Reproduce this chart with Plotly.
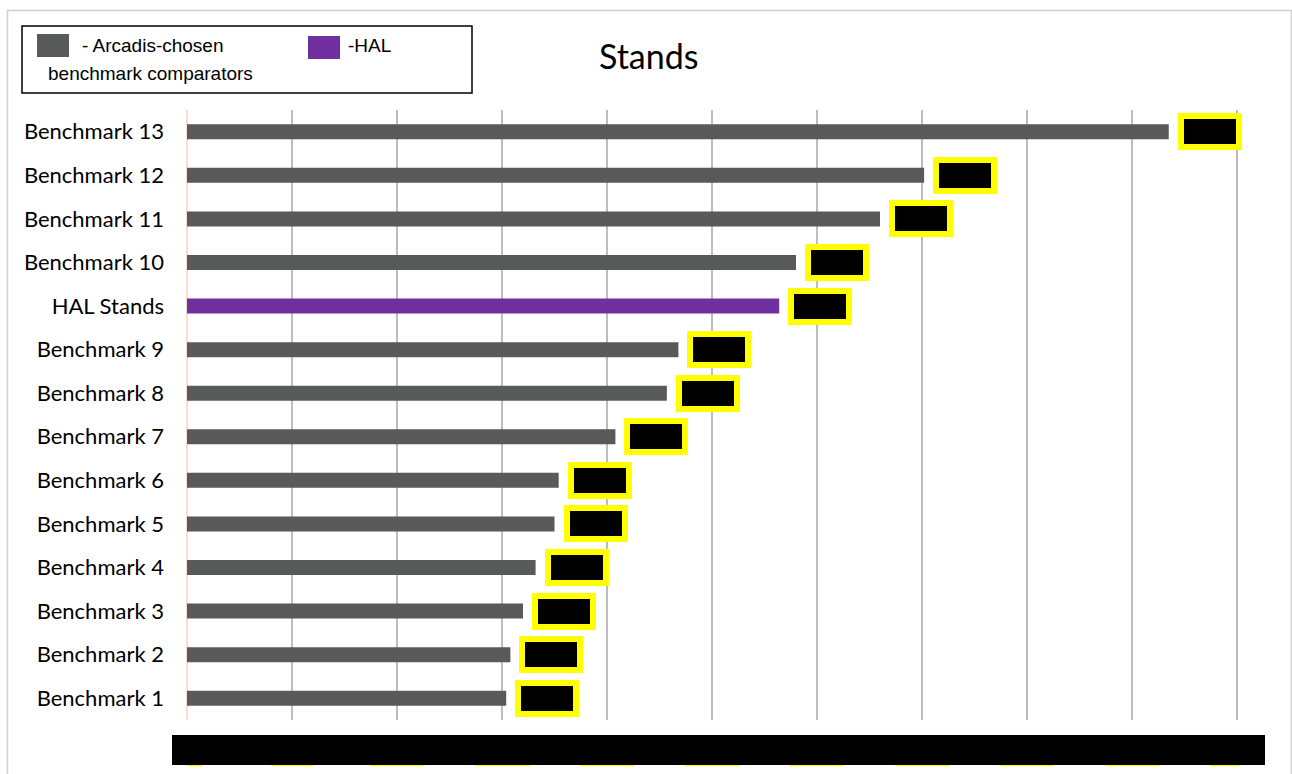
import plotly.graph_objects as go

# Categories, bottom to top
categories = [
    "Benchmark 1", "Benchmark 2", "Benchmark 3", "Benchmark 4", "Benchmark 5",
    "Benchmark 6", "Benchmark 7", "Benchmark 8", "Benchmark 9", "HAL Stands",
    "Benchmark 10", "Benchmark 11", "Benchmark 12", "Benchmark 13",
]
values = [3.04, 3.08, 3.20, 3.32, 3.50, 3.54, 4.08, 4.57, 4.68, 5.64,
          5.80, 6.60, 7.02, 9.35]
x_ticks = [0, 1, 2, 3, 4, 5, 6, 7, 8, 9, 10]

GREY = "#58595B"
PURPLE = "#7030A0"
YELLOW = "#FFFF00"

bar_colors = [PURPLE if c == "HAL Stands" else GREY for c in categories]

W, H = 1292, 774
L, R, T, B = 187, 52, 110, 54
PW, PH = W - L - R, H - T - B
UNIT = 105.0  # pixels per x unit


def px(xp):
    return (xp - L) / PW


def py(yp):
    return (H - B - yp) / PH


fig = go.Figure()
fig.add_trace(go.Bar(
    y=categories, x=values, orientation="h",
    marker=dict(color=bar_colors, line=dict(width=0)),
    showlegend=False, hoverinfo="x+y",
))

# Boxed value labels
for cat, v in zip(categories, values):
    fig.add_annotation(
        x=v, y=cat, xref="x", yref="y", xanchor="left", yanchor="middle",
        xshift=9, showarrow=False, text=f"{v:.2f}",
        font=dict(family="Liberation Sans", size=12, color="black"),
        bgcolor="black", bordercolor=YELLOW, borderwidth=6, borderpad=0,
        width=52, height=25,
    )

shapes = []
# Outer chart frame
shapes.append(dict(type="rect", xref="paper", yref="paper",
                   x0=px(7.5), x1=px(1291.5), y0=py(10.5), y1=py(820),
                   line=dict(color="#D0D0D0", width=1.5), layer="below"))
# Legend frame
shapes.append(dict(type="rect", xref="paper", yref="paper",
                   x0=px(22), x1=px(472), y0=py(26), y1=py(93),
                   line=dict(color="black", width=1.5)))
# Legend swatches
shapes.append(dict(type="rect", xref="paper", yref="paper",
                   x0=px(37), x1=px(69), y0=py(34), y1=py(57),
                   fillcolor=GREY, line=dict(width=0)))
shapes.append(dict(type="rect", xref="paper", yref="paper",
                   x0=px(308), x1=px(340), y0=py(36), y1=py(59),
                   fillcolor=PURPLE, line=dict(width=0)))
# Axis-label band
shapes.append(dict(type="rect", xref="paper", yref="paper",
                   x0=px(172), x1=px(1265), y0=py(735), y1=py(765),
                   fillcolor="black", line=dict(width=0), layer="above"))
# Edges of the tick label boxes below the band
tick_half = [15, 21, 27, 27, 27, 27, 27, 27, 27, 27, 27]
for t, hw in zip(x_ticks, tick_half):
    shapes.append(dict(type="rect", xref="x", yref="paper",
                       xsizemode="pixel", xanchor=t, x0=-hw, x1=hw,
                       y0=py(765), y1=py(766.3),
                       fillcolor=YELLOW, line=dict(width=0), layer="above"))
fig.update_layout(shapes=shapes)

# Legend texts
legend_font = dict(family="Liberation Sans", size=19, color="black")
fig.add_annotation(xref="paper", yref="paper", x=px(80), y=py(45),
                   xanchor="left", yanchor="middle", showarrow=False,
                   text="- Arcadis-chosen", font=legend_font)
fig.add_annotation(xref="paper", yref="paper", x=px(46), y=py(73),
                   xanchor="left", yanchor="middle", showarrow=False,
                   text="benchmark comparators", font=legend_font)
fig.add_annotation(xref="paper", yref="paper", x=px(346), y=py(45),
                   xanchor="left", yanchor="middle", showarrow=False,
                   text="-HAL", font=legend_font)

# Title
fig.add_annotation(xref="paper", yref="paper", x=px(649), y=py(56),
                   xanchor="center", yanchor="middle", showarrow=False,
                   text="Stands", font=dict(family="Lato", size=34, color="black"))

fig.update_xaxes(
    range=[0, PW / UNIT], tickvals=x_ticks, showticklabels=False,
    showgrid=True, gridcolor="#BDBDBD", gridwidth=2,
    zeroline=True, zerolinecolor="#FBDCCB", zerolinewidth=2,
    showline=False, fixedrange=True,
)
fig.update_yaxes(
    categoryorder="array", categoryarray=categories,
    showgrid=False, zeroline=False, showline=False, ticks="",
    ticklabelstandoff=22,
    tickfont=dict(family="Lato", size=22, color="black"),
)

fig.update_layout(
    width=W, height=H,
    margin=dict(l=L, r=R, t=T, b=B, autoexpand=False),
    paper_bgcolor="white", plot_bgcolor="white",
    bargap=0.656,
)

fig.write_html("out.html")
